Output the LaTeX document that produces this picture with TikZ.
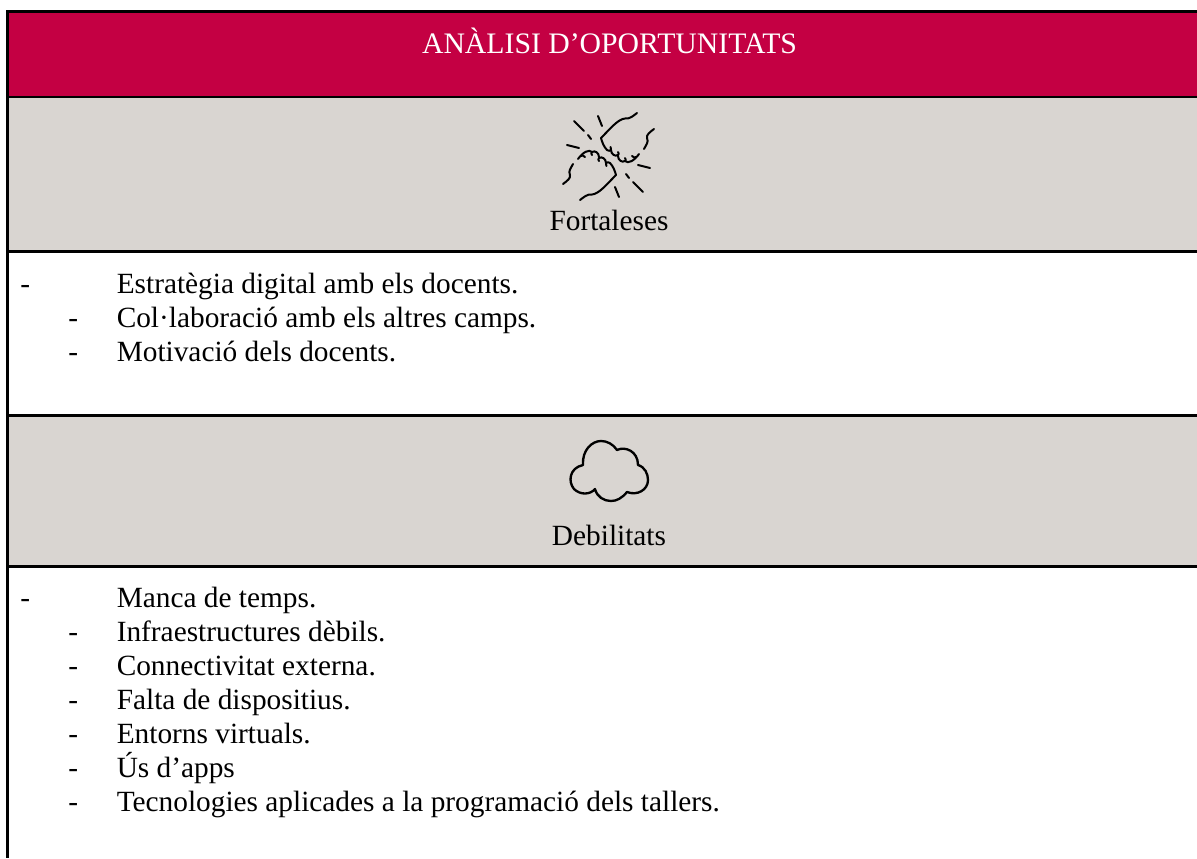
\documentclass[tikz,border=0pt]{standalone}
\usepackage{fontspec}
\setmainfont{Liberation Serif}
\definecolor{crim}{HTML}{C40043}
\definecolor{greyb}{HTML}{D9D5D1}
\newcommand{\fisthand}{%
  \draw (637,113) .. controls (633,116) and (630,119) .. (625,118.5) .. controls (618,119) and (610,129) .. (601,138);
  \draw (601,138) .. controls (602,142) and (604,147) .. (607,150) .. controls (610,152) and (612,150) .. (610.5,147);
  \draw (611,150) .. controls (611,154) and (615,157) .. (618,155) .. controls (619,154) and (619,153) .. (618,152);
  \draw (618,156) .. controls (618,160) and (622,163) .. (625,161) .. controls (626,160) and (626,159) .. (625,158);
  \draw (625,161) .. controls (628,164) and (634,161) .. (639,154);
  \draw (632,156) .. controls (634,157) and (635,159) .. (636,157);
  \draw (654,129) .. controls (650,132) and (646,135) .. (647,138) .. controls (649,142) and (646,145) .. (644,149);
  \draw (638,165) -- (650,168);
  \draw (626,174) -- (629,178);
  \draw (633,182) -- (643,192);
  \draw (615,187) -- (619,197);
}
\tikzset{
 band/.style={fill=greyb,draw=none},
 rule/.style={black,line width=2.25pt},
 thinrule/.style={black,line width=1.5pt},
 txt/.style={inner sep=0pt,anchor=base west,font=\fontsize{22pt}{26pt}\selectfont,text=black},
 ctxt/.style={inner sep=0pt,anchor=base,font=\fontsize{22.3pt}{26pt}\selectfont},
 ltxt/.style={inner sep=0pt,anchor=base,font=\fontsize{22pt}{26pt}\selectfont},
 ico/.style={black,line width=1.5pt,line cap=round,line join=round}
}
\begin{document}
\begin{tikzpicture}[x=0.75pt,y=-0.75pt]
\useasboundingbox (0,0) rectangle (1197,858);
\fill[white] (0,0) rectangle (1197,858);
\fill[crim] (8,11) rectangle (1197,97);
\fill[band] (8,97) rectangle (1197,251);
\fill[band] (8,415) rectangle (1197,566);
\draw[rule] (7.5,11.5) -- (1197,11.5);
\draw[rule] (7.5,10) -- (7.5,858);
\draw[thinrule] (7.5,97) -- (1197,97);
\draw[rule] (7.5,251.5) -- (1197,251.5);
\draw[rule] (7.5,415.5) -- (1197,415.5);
\draw[rule] (7.5,566) -- (1197,566);
\node[ctxt,text=white] (title) at (609.5,53) {ANÀLISI D’OPORTUNITATS};
\node[ltxt] (fort) at (609,230) {Fortaleses};
\node[ltxt] (deb) at (609,545) {Debilitats};
% fists: the same hand and rays, turned half a turn about the icon's centre
\begin{scope}[ico]
\fisthand
\begin{scope}[rotate around={180:(608.5,156.5)}]
\fisthand
\end{scope}
\end{scope}
% cloud
\draw[ico,line width=1.75pt] (583,465)
  .. controls (582,450) and (592,441) .. (601,441)
  .. controls (607,441) and (613,444) .. (617,450)
  .. controls (625,446) and (638,451) .. (638,465)
  .. controls (645,467) and (648,474) .. (648,480)
  .. controls (648,490) and (637,496) .. (627,492)
  .. controls (622,498) and (617,501) .. (611,501)
  .. controls (604,501) and (597,497) .. (595,489)
  .. controls (590,495) and (580,495) .. (574,489)
  .. controls (568,482) and (569,468) .. (583,465) -- cycle;
% lists
\node[txt] (a0) at (20,293) {-};
\node[txt] (a1) at (116.5,293) {Estratègia digital amb els docents.};
\node[txt] (b0) at (68,327) {-};
\node[txt] (b1) at (116.5,327) {Col·laboració amb els altres camps.};
\node[txt] (c0) at (68,361) {-};
\node[txt] (c1) at (116.5,361) {Motivació dels docents.};
\node[txt] (d0) at (20,607) {-};
\node[txt] (d1) at (116.5,607) {Manca de temps.};
\node[txt] (e0) at (68,641) {-};
\node[txt] (e1) at (116.5,641) {Infraestructures dèbils.};
\node[txt] (f0) at (68,675) {-};
\node[txt] (f1) at (116.5,675) {Connectivitat externa.};
\node[txt] (g0) at (68,709) {-};
\node[txt] (g1) at (116.5,709) {Falta de dispositius.};
\node[txt] (h0) at (68,743) {-};
\node[txt] (h1) at (116.5,743) {Entorns virtuals.};
\node[txt] (i0) at (68,777) {-};
\node[txt] (i1) at (116.5,777) {Ús d’apps};
\node[txt] (j0) at (68,811) {-};
\node[txt] (j1) at (116.5,811) {Tecnologies aplicades a la programació dels tallers.};
\end{tikzpicture}
\end{document}
